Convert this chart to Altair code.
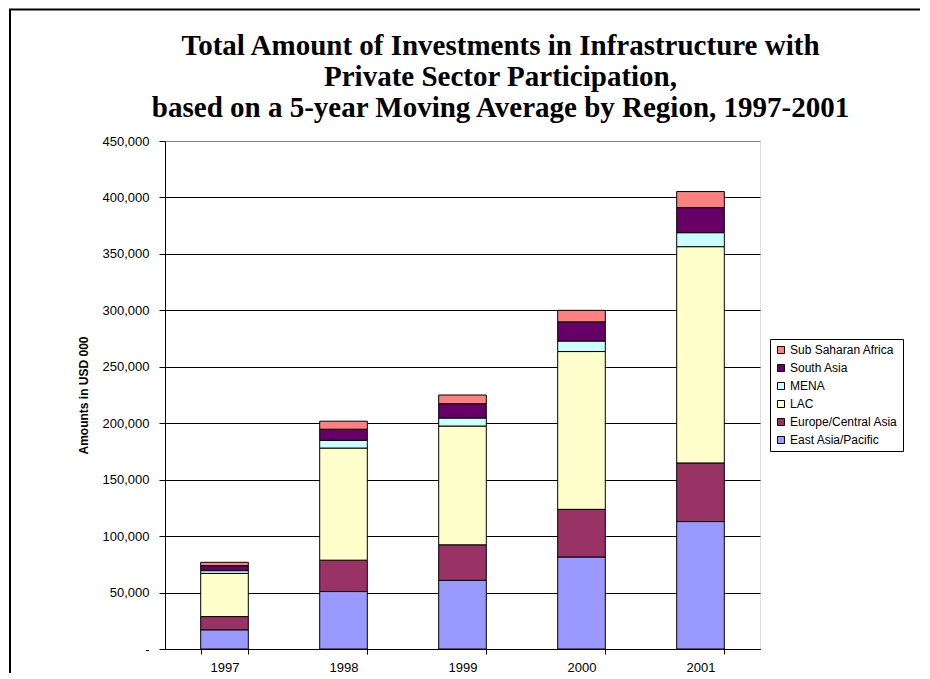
import altair as alt
import pandas as pd

years = ["1997", "1998", "1999", "2000", "2001"]
east_asia = [17000, 50900, 60800, 81500, 112900]
europe = [11700, 27800, 31500, 42200, 51900]
lac = [38300, 99300, 105200, 139800, 191600]
mena = [2400, 6900, 7100, 9300, 12400]
south_asia = [4400, 9800, 12700, 17000, 22200]
ssa = [3000, 7100, 7700, 10200, 14200]

regions = ["East Asia/Pacific", "Europe/Central Asia", "LAC", "MENA", "South Asia", "Sub Saharan Africa"]
series = [east_asia, europe, lac, mena, south_asia, ssa]
colors = ["#9999FF", "#993366", "#FFFFCC", "#CCFFFF", "#660066", "#FF8080"]
y_ticks = [0, 50000, 100000, 150000, 200000, 250000, 300000, 350000, 400000, 450000]

rows = []
for rank, (reg, vals) in enumerate(zip(regions, series)):
    for yr, v in zip(years, vals):
        rows.append({"Year": yr, "Region": reg, "Amount": v, "rank": rank})
df = pd.DataFrame(rows)

W, H = 595, 508

bars = alt.Chart(df).mark_bar(stroke="black", strokeWidth=1).encode(
    x=alt.X("Year:N", sort=years,
            scale=alt.Scale(paddingInner=0.6, paddingOuter=0.3),
            axis=alt.Axis(title=None, labelAngle=0, tickBand="extent", grid=False,
                          labelFont="Liberation Sans", labelFontSize=13, labelColor="black",
                          labelPadding=7, tickSize=5, tickColor="black", domainColor="black")),
    y=alt.Y("Amount:Q", stack="zero",
            scale=alt.Scale(domain=[0, 450000], nice=False),
            axis=alt.Axis(title="Amounts in USD 000", values=y_ticks,
                          labelExpr="datum.value == 0 ? '-' : format(datum.value, ',')",
                          labelFont="Liberation Sans", labelFontSize=13, labelColor="black",
                          labelPadding=10, tickSize=6, tickColor="black", domainColor="black",
                          grid=True,
                          gridColor=alt.condition("datum.value == 450000", alt.value("#808080"), alt.value("black")),
                          titleFont="Liberation Sans", titleFontSize=12, titleFontWeight="bold",
                          titleColor="black", titleX=-82, titleY=H / 2, titleAngle=-90,
                          titleBaseline="middle", titleAlign="center")),
    color=alt.Color("Region:N",
                    scale=alt.Scale(domain=regions[::-1], range=colors[::-1]),
                    legend=alt.Legend(title=None, orient="none", legendX=605, legendY=198,
                                      strokeColor="black", fillColor="white", padding=5,
                                      labelFont="Liberation Sans", labelFontSize=12, labelColor="black",
                                      symbolType="square", symbolSize=49, symbolStrokeColor="black",
                                      symbolStrokeWidth=1, rowPadding=6, labelOffset=3)),
    order=alt.Order("rank:Q", sort="ascending"),
)

one = pd.DataFrame({"k": [0]})
top_line = alt.Chart(one).mark_rule(color="black", strokeWidth=2).encode(
    x=alt.value(-156), x2=alt.value(770), y=alt.value(-131.5))
left_line = alt.Chart(one).mark_rule(color="black", strokeWidth=2).encode(
    x=alt.value(-155), y=alt.value(-131.5), y2=alt.value(540))

chart = alt.layer(bars, top_line, left_line).properties(
    width=W, height=H,
    title=alt.TitleParams(
        text=["Total Amount of Investments in Infrastructure with",
              "Private Sector Participation,",
              "based on a 5-year Moving Average by Region, 1997-2001"],
        font="Liberation Serif", fontSize=29, fontWeight="bold", color="black",
        lineHeight=31, anchor="middle", dx=38, offset=-137, baseline="alphabetic"),
    autosize=alt.AutoSizeParams(type="none"),
    padding={"left": 157, "top": 133, "right": 160, "bottom": 24},
).configure_view(fill="#C0C0C0", stroke="#808080", strokeWidth=1
).configure(background="white")

chart.save("out.html", embed_options={"renderer": "svg", "actions": False})
